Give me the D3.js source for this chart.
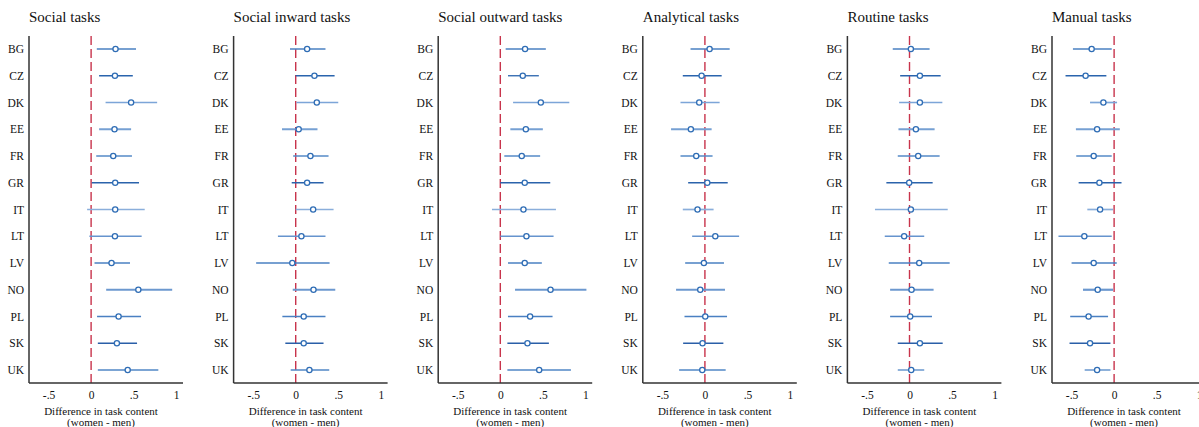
<!DOCTYPE html>
<html>
<head>
<meta charset="utf-8">
<script src="https://cdn.jsdelivr.net/npm/d3@7"></script>
<style>
  body { margin: 0; background: #fff; }
  svg { display: block; }
</style>
</head>
<body>
<div id="chart"></div>
<script>
const countries = ["BG","CZ","DK","EE","FR","GR","IT","LT","LV","NO","PL","SK","UK"];
const panelTitles = ["Social tasks","Social inward tasks","Social outward tasks","Analytical tasks","Routine tasks","Manual tasks"];
const xTicks = [-0.5, 0, 0.5, 1];
const xTickLabels = ["-.5","0",".5","1"];

// point estimates, one array per panel, in country order
const estSocial   = [0.287,0.28,0.47,0.275,0.26,0.283,0.283,0.28,0.24,0.555,0.323,0.303,0.43];
const estInward   = [0.134,0.22,0.248,0.035,0.173,0.134,0.205,0.067,-0.04,0.209,0.094,0.094,0.161];
const estOutward  = [0.291,0.264,0.476,0.3,0.252,0.287,0.272,0.307,0.287,0.59,0.35,0.319,0.457];
const estAnalyt   = [0.055,-0.039,-0.067,-0.165,-0.102,0.028,-0.087,0.122,-0.012,-0.055,0.004,-0.028,-0.031];
const estRoutine  = [0.016,0.122,0.122,0.075,0.102,-0.004,0.016,-0.063,0.114,0.024,0.008,0.122,0.02];
const estManual   = [-0.264,-0.335,-0.126,-0.2,-0.24,-0.173,-0.165,-0.35,-0.24,-0.193,-0.3,-0.283,-0.2];

// lower / upper 95% bounds
const loSocial  = [0.067,0.094,0.17,0.094,0.06,0.008,-0.047,-0.02,0.04,0.177,0.07,0.079,0.079];
const hiSocial  = [0.528,0.49,0.776,0.47,0.48,0.563,0.63,0.594,0.457,0.953,0.587,0.54,0.79];
const loInward  = [-0.067,0.0,0.008,-0.161,-0.03,-0.047,0.0,-0.209,-0.465,-0.035,-0.157,-0.122,-0.059];
const hiInward  = [0.35,0.457,0.5,0.256,0.386,0.327,0.445,0.35,0.398,0.465,0.35,0.327,0.394];
const loOutward = [0.063,0.09,0.15,0.118,0.047,0.0,-0.098,0.0,0.09,0.173,0.09,0.083,0.083];
const hiOutward = [0.535,0.453,0.811,0.5,0.468,0.587,0.654,0.626,0.488,1.012,0.614,0.571,0.83];
const loAnalyt  = [-0.169,-0.26,-0.287,-0.398,-0.287,-0.197,-0.26,-0.15,-0.232,-0.339,-0.24,-0.256,-0.303];
const hiAnalyt  = [0.291,0.197,0.173,0.079,0.09,0.268,0.102,0.402,0.224,0.236,0.26,0.217,0.244];
const loRoutine = [-0.197,-0.11,-0.122,-0.13,-0.138,-0.272,-0.406,-0.291,-0.244,-0.228,-0.228,-0.138,-0.138];
const hiRoutine = [0.236,0.366,0.386,0.295,0.354,0.272,0.449,0.173,0.472,0.283,0.264,0.39,0.173];
const loManual  = [-0.484,-0.571,-0.283,-0.449,-0.445,-0.417,-0.315,-0.654,-0.5,-0.366,-0.516,-0.524,-0.346];
const hiManual  = [-0.028,-0.091,0.035,0.067,-0.028,0.087,-0.012,-0.028,0.031,-0.012,-0.071,-0.043,-0.043];

const ests = [estSocial, estInward, estOutward, estAnalyt, estRoutine, estManual];
const los = [loSocial, loInward, loOutward, loAnalyt, loRoutine, loManual];
const his = [hiSocial, hiInward, hiOutward, hiAnalyt, hiRoutine, hiManual];

// CI line shade per country (as in the original)
const ciColor = {BG:"#4a80c2",CZ:"#2a64ad",DK:"#7ca5d8",EE:"#76a0d3",FR:"#558ac7",GR:"#2b63ab",IT:"#8aaedb",
  LT:"#6694ce",LV:"#4a80c2",NO:"#6c98cf",PL:"#4a80c2",SK:"#2a5fa8",UK:"#5187c6"};
const ciWidth = {EE:2.2, NO:2.2, DK:1.7, IT:1.7, LT:1.7};

const svgWidth = 1199;
const svgHeight = 427;
const panelStep = 204.6;
const axisLeft = 29;
const plotWidth = 154;
const plotTop = 36;
const axisY = 383;
const font = "'Liberation Serif','Times New Roman',serif";

const svg = d3.select("#chart")
  .append("svg")
  .attr("width", svgWidth)
  .attr("height", svgHeight);

const y = d3.scalePoint()
  .domain(countries)
  .range([49, 370]);

panelTitles.forEach((title, p) => {
  const x0 = axisLeft + p * panelStep;
  const x = d3.scaleLinear()
    .domain([-0.73, 1.08])
    .range([x0, x0 + plotWidth]);

  const g = svg.append("g");

  g.append("text")
    .attr("x", x0)
    .attr("y", 22)
    .attr("font-family", font)
    .attr("font-size", "15px")
    .attr("fill", "#111")
    .text(title);

  // zero reference line
  g.append("line")
    .attr("x1", x(0)).attr("x2", x(0))
    .attr("y1", plotTop).attr("y2", axisY)
    .attr("stroke", "#c8344c")
    .attr("stroke-width", 1.4)
    .attr("stroke-dasharray", "9,4");

  const rows = countries.map((c, i) => ({c, est: ests[p][i], lo: los[p][i], hi: his[p][i]}));

  g.selectAll("line.ci")
    .data(rows)
    .join("line")
    .attr("class", "ci")
    .attr("x1", d => x(d.lo))
    .attr("x2", d => x(d.hi))
    .attr("y1", d => y(d.c))
    .attr("y2", d => y(d.c))
    .attr("stroke", d => ciColor[d.c])
    .attr("stroke-width", d => ciWidth[d.c] || 1.3);

  g.selectAll("circle")
    .data(rows)
    .join("circle")
    .attr("cx", d => x(d.est))
    .attr("cy", d => y(d.c))
    .attr("r", 2.6)
    .attr("fill", "#fff")
    .attr("stroke", "#2f6db5")
    .attr("stroke-width", 1.3);

  // y axis
  const yAxis = g.append("g")
    .attr("transform", `translate(${x0},0)`)
    .call(d3.axisLeft(y).tickSize(0).tickPadding(5));
  yAxis.select(".domain").remove();
  yAxis.selectAll("text")
    .attr("font-family", font)
    .attr("font-size", "11.5px")
    .attr("fill", "#111");
  g.append("line")
    .attr("x1", x0).attr("x2", x0)
    .attr("y1", plotTop).attr("y2", axisY)
    .attr("stroke", "#333")
    .attr("stroke-width", 1.5);

  // x axis
  const xAxis = g.append("g")
    .attr("transform", `translate(0,${axisY})`)
    .call(d3.axisBottom(x).tickValues(xTicks).tickFormat((d, i) => xTickLabels[i]).tickSize(0).tickPadding(8));
  xAxis.select(".domain").remove();
  xAxis.selectAll("text")
    .attr("font-family", font)
    .attr("font-size", "11.5px")
    .attr("fill", "#111");
  g.append("line")
    .attr("x1", x0).attr("x2", x0 + plotWidth)
    .attr("y1", axisY).attr("y2", axisY)
    .attr("stroke", "#333")
    .attr("stroke-width", 1.5);

  const cx = x0 + 72;
  g.append("text")
    .attr("x", cx).attr("y", 415)
    .attr("text-anchor", "middle")
    .attr("font-family", font)
    .attr("font-size", "11px")
    .attr("fill", "#111")
    .text("Difference in task content");
  g.append("text")
    .attr("x", cx).attr("y", 426)
    .attr("text-anchor", "middle")
    .attr("font-family", font)
    .attr("font-size", "11px")
    .attr("fill", "#111")
    .text("(women - men)");
});
</script>
</body>
</html>
